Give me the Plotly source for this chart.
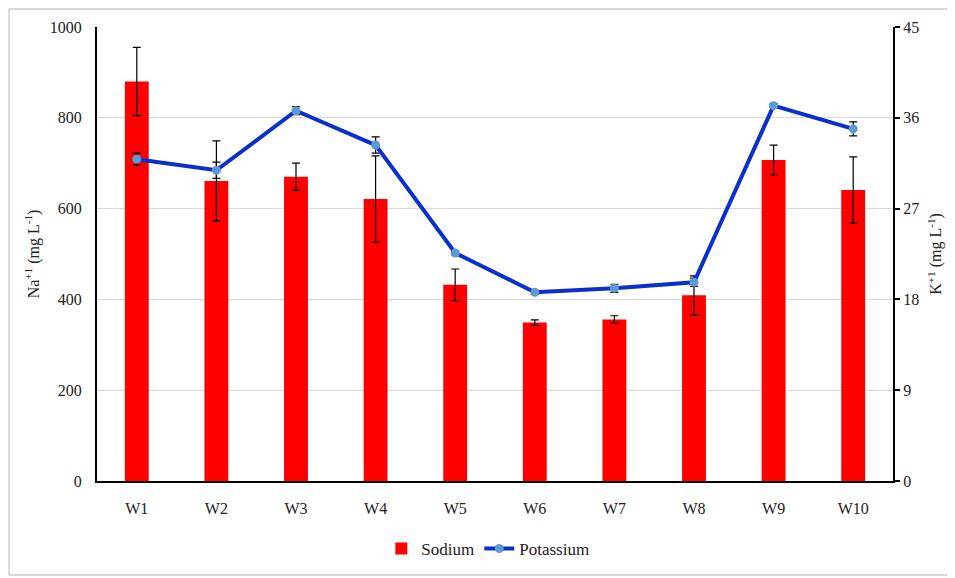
import plotly.graph_objects as go

categories = ["W1", "W2", "W3", "W4", "W5", "W6", "W7", "W8", "W9", "W10"]
sodium = [880, 661, 670, 621, 432, 349, 356, 409, 707, 641]
sodium_err = [75, 88, 30, 95, 35, 6, 8, 43, 33, 73]
potassium = [31.9, 30.8, 36.7, 33.3, 22.6, 18.7, 19.1, 19.7, 37.2, 34.9]
potassium_err = [0.6, 0.8, 0.4, 0.8, 0.2, 0.2, 0.4, 0.4, 0.2, 0.7]
na_ticks = [0, 200, 400, 600, 800, 1000]
k_ticks = [0, 9, 18, 27, 36, 45]

FONT = "Liberation Serif"

fig = go.Figure()
fig.add_trace(go.Bar(
    x=categories, y=sodium, name="Sodium",
    marker=dict(color="#FF0000", line=dict(width=0)),
    width=0.3,
    error_y=dict(type="data", array=sodium_err, color="black", thickness=1.2, width=4),
))
fig.add_trace(go.Scatter(
    x=categories, y=potassium, name="Potassium", yaxis="y2",
    mode="lines+markers",
    line=dict(color="#0A2FCC", width=4),
    marker=dict(color="#5B9BD5", size=9),
    error_y=dict(type="data", array=potassium_err, color="black", thickness=1.2, width=4),
))

# page has an 8px body offset; figure coordinates are page coordinates minus 8
OFF = 8
W, H = 955, 578
l, r, t, b = 97 - OFF, 955 - (893 - OFF), 27 - OFF, 578 - (481 - OFF)
pw, ph = W - l - r, H - t - b

fig.update_layout(
    width=W, height=H,
    margin=dict(l=l, r=r, t=t, b=b, autoexpand=False),
    paper_bgcolor="white", plot_bgcolor="white",
    font=dict(family=FONT, size=16, color="#222222"),
    showlegend=True,
    legend=dict(orientation="h", x=0.491, xanchor="center", y=-(549 - 481) / ph, yanchor="middle",
                font=dict(family=FONT, size=17, color="#222222"), traceorder="normal"),
    xaxis=dict(
        range=[-0.5, len(categories) - 0.5],
        showline=True, linecolor="black", linewidth=2,
        ticks="", showgrid=False, automargin=False,
        ticklabelstandoff=12,
        tickfont=dict(family=FONT, size=16),
    ),
    yaxis=dict(
        range=[0, 1000], tickvals=na_ticks,
        showline=True, linecolor="black", linewidth=2,
        ticks="", showgrid=True, gridcolor="#D9D9D9", gridwidth=1,
        zeroline=False, automargin=False,
        ticklabelstandoff=10,
        tickfont=dict(family=FONT, size=16),
        title=dict(text="Na<sup>+1</sup> (mg L<sup>-1</sup>)", font=dict(family=FONT, size=16), standoff=6),
    ),
    yaxis2=dict(
        range=[0, 45], tickvals=k_ticks, overlaying="y", side="right",
        showline=True, linecolor="black", linewidth=2,
        ticks="outside", ticklen=5, tickwidth=2, tickcolor="black",
        showgrid=False, zeroline=False, automargin=False,
        tickfont=dict(family=FONT, size=16),
        title=dict(text="K<sup>+1</sup> (mg L<sup>-1</sup>)", font=dict(family=FONT, size=16), standoff=12),
    ),
    shapes=[dict(
        type="rect", xref="paper", yref="paper",
        x0=(1 - l) / pw, x1=(950 - OFF - l) / pw,
        y0=(H - b - (575 - OFF)) / ph, y1=(H - b - 1) / ph,
        line=dict(color="#D0D0D0", width=1.5), fillcolor="rgba(0,0,0,0)", layer="below",
    )],
)

fig.write_html("out.html")
